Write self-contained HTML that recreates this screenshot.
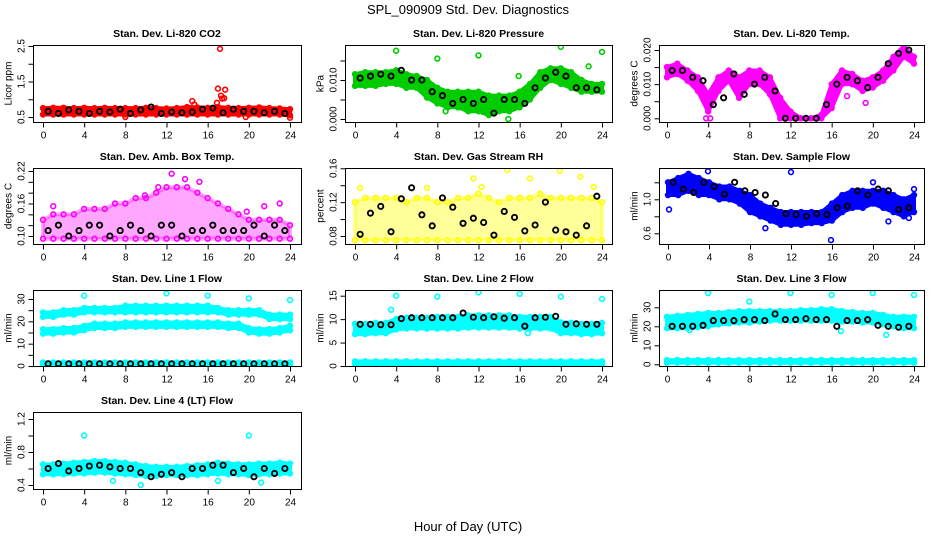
<!DOCTYPE html>
<html><head><meta charset="utf-8">
<style>
html,body{margin:0;padding:0;background:#fff;}
svg{display:block;font-family:"Liberation Sans",Arial,sans-serif;}
</style></head>
<body>
<svg id="chart" width="936" height="540" viewBox="0 0 936 540" xmlns="http://www.w3.org/2000/svg">
<text x="468" y="14" text-anchor="middle" font-size="13">SPL_090909  Std. Dev. Diagnostics</text>
<text x="468" y="531" text-anchor="middle" font-size="13">Hour of Day (UTC)</text>
</svg>
<script>
// ---------- data (hourly band low/high, outliers, half-hour black samples) ----------
const hours = [0,1,2,3,4,5,6,7,8,9,10,11,12,13,14,15,16,17,18,19,20,21,22,23,24];
const blackHours = [0.5,1.5,2.5,3.5,4.5,5.5,6.5,7.5,8.5,9.5,10.5,11.5,12.5,13.5,14.5,15.5,16.5,17.5,18.5,19.5,20.5,21.5,22.5,23.5];

const co2Lo = [0.57,0.57,0.57,0.57,0.57,0.57,0.57,0.57,0.57,0.57,0.57,0.57,0.57,0.57,0.57,0.57,0.57,0.57,0.57,0.57,0.57,0.57,0.57,0.57,0.55];
const co2Hi = [0.75,0.76,0.76,0.75,0.76,0.75,0.76,0.75,0.75,0.75,0.76,0.75,0.74,0.75,0.78,0.77,0.76,0.78,0.76,0.75,0.76,0.77,0.75,0.74,0.72];
const co2Out = [[17.2,2.42],[17,1.3],[17.7,1.27],[17.3,1.1],[17.4,1.02],[17.6,1.03],[16.9,0.9],[14.5,0.95],[14.7,0.85],[24,0.48],[19.7,0.5],[8,0.5]];
const co2Black = [0.66,0.6,0.7,0.66,0.6,0.66,0.64,0.72,0.6,0.7,0.78,0.6,0.64,0.62,0.64,0.72,0.75,0.62,0.72,0.66,0.66,0.62,0.66,0.6];

const presLo = [0.0085,0.0085,0.0085,0.009,0.009,0.008,0.008,0.0055,0.004,0.003,0.003,0.002,0.002,0.001,0.002,0.002,0.003,0.005,0.008,0.010,0.009,0.008,0.007,0.007,0.007];
const presHi = [0.0115,0.012,0.012,0.012,0.0125,0.0115,0.011,0.010,0.008,0.007,0.007,0.007,0.007,0.006,0.006,0.006,0.007,0.009,0.012,0.013,0.013,0.012,0.010,0.009,0.009];
const presOut = [[4,0.0175],[8,0.0155],[12,0.0163],[20,0.0185],[24,0.0172],[22.7,0.0135],[14.9,0.0],[8.8,0.002],[15.9,0.011]];
const presBlack = [0.0105,0.011,0.0115,0.011,0.0125,0.010,0.010,0.007,0.006,0.004,0.005,0.004,0.005,0.0015,0.005,0.005,0.004,0.008,0.0105,0.012,0.011,0.008,0.008,0.0075];

const tempLo = [0.012,0.013,0.011,0.008,0.002,0.008,0.011,0.006,0.010,0.010,0.007,0.000,0.000,0.000,0.000,0.000,0.003,0.010,0.010,0.008,0.009,0.011,0.014,0.018,0.016];
const tempHi = [0.015,0.016,0.014,0.012,0.007,0.012,0.014,0.012,0.014,0.014,0.012,0.006,0.002,0.000,0.000,0.001,0.010,0.014,0.013,0.011,0.012,0.014,0.018,0.021,0.018];
const tempOut = [[3.8,0.0],[4.2,0.0],[17.5,0.0065],[19.3,0.0045]];
const tempBlack = [0.014,0.014,0.012,0.011,0.004,0.006,0.013,0.007,0.010,0.012,0.008,0.000,0.000,0.000,0.000,0.004,0.010,0.012,0.011,0.009,0.012,0.016,0.019,0.020];

const boxLo = [0.095,0.095,0.095,0.095,0.095,0.095,0.095,0.095,0.095,0.095,0.095,0.095,0.095,0.095,0.095,0.095,0.095,0.095,0.095,0.095,0.095,0.095,0.095,0.095,0.095];
const boxHi = [0.13,0.14,0.14,0.14,0.15,0.15,0.15,0.16,0.16,0.17,0.17,0.18,0.19,0.19,0.19,0.18,0.17,0.16,0.15,0.14,0.13,0.13,0.13,0.13,0.12];
const boxOut = [[12.5,0.215],[13.8,0.205],[15.2,0.2],[1,0.155],[19.8,0.145],[21.5,0.155],[23,0.16],[11.2,0.19],[9.9,0.175]];
const boxBlack = [0.11,0.12,0.10,0.11,0.12,0.12,0.10,0.11,0.12,0.11,0.10,0.12,0.12,0.10,0.11,0.11,0.12,0.11,0.11,0.11,0.12,0.10,0.12,0.11];

const rhLo = [0.075,0.075,0.075,0.075,0.075,0.075,0.075,0.075,0.075,0.075,0.075,0.075,0.075,0.075,0.075,0.075,0.075,0.075,0.075,0.075,0.075,0.075,0.075,0.075,0.075];
const rhHi = [0.12,0.125,0.125,0.125,0.125,0.12,0.125,0.125,0.12,0.12,0.125,0.125,0.13,0.125,0.12,0.125,0.125,0.125,0.13,0.125,0.125,0.125,0.125,0.125,0.12];
const rhOut = [[0.5,0.137],[7,0.137],[11.5,0.148],[12.3,0.138],[14.8,0.158],[17,0.148],[19.9,0.157],[21.9,0.15],[23.2,0.138]];
const rhBlack = [0.082,0.107,0.115,0.085,0.124,0.137,0.105,0.092,0.125,0.114,0.095,0.101,0.096,0.081,0.109,0.102,0.086,0.093,0.12,0.087,0.085,0.081,0.092,0.127];

const flowLo = [1.05,1.05,1.1,1.05,1.05,1.0,1.0,0.95,0.85,0.8,0.75,0.7,0.7,0.7,0.72,0.72,0.75,0.85,0.9,0.9,0.95,0.9,0.85,0.8,0.85];
const flowHi = [1.2,1.25,1.3,1.25,1.2,1.15,1.15,1.1,1.05,0.95,0.9,0.85,0.85,0.85,0.85,0.85,0.95,1.05,1.1,1.1,1.1,1.1,1.05,1.0,1.05];
const flowOut = [[12,1.32],[15.9,0.52],[3.9,1.33],[0.1,0.88],[9.5,0.66],[21.5,0.74],[23.5,0.78],[24,1.12],[20,1.2]];
const flowBlack = [1.2,1.12,1.08,1.2,1.15,1.06,1.2,1.1,1.08,1.05,0.95,0.83,0.82,0.8,0.83,0.82,0.9,0.92,1.1,1.05,1.12,1.1,0.88,0.9];

const l1aLo = [22,22,23,23,24,24,24,24,24,24,24,24,24,24,24,24,24,24,23,23,23,23,21,21,21];
const l1aHi = [24,24,25,25,26,26,26,26,27,27,27,27,27,27,27,27,27,26,25,25,25,25,23,23,23];
const l1bLo = [14.5,14.5,15,15,16,17,17,17,17.5,17.5,17.5,17.5,17.5,17.5,17.5,17.5,17.5,17.5,17,17,15,14.5,14.5,15,16];
const l1bHi = [16.5,16.5,17,17,18,19,19,19,19.5,19.5,19.5,19.5,19.5,19.5,19.5,19.5,19.5,19.5,19,19,17,16.5,16.5,17,18];
const l1cLo = [0.5,0.5,0.5,0.5,0.5,0.5,0.5,0.5,0.5,0.5,0.5,0.5,0.5,0.5,0.5,0.5,0.5,0.5,0.5,0.5,0.5,0.5,0.5,0.5,0.5];
const l1cHi = [1.6,1.6,1.6,1.6,1.6,1.6,1.6,1.6,1.6,1.6,1.6,1.6,1.6,1.6,1.6,1.6,1.6,1.6,1.6,1.6,1.6,1.6,1.6,1.6,1.6];
const l1Out = [[4,31.5],[12,32.5],[16,31.5],[20,30.3],[24,29.5]];
const l1Black = [1,1,1,1,1,1,1,1,1,1,1,1,1,1,1,1,1,1,1,1,1,1,1,1];

const l2aLo = [6.8,6.8,7,7,7.8,8,8,8,8,8,8,8.2,8.2,8.2,8.2,8.2,8,8,8,8,7,7,6.8,6.8,7];
const l2aHi = [9,9,9.2,9.2,10,10.3,10.3,10.3,10.5,10.5,10.5,10.8,10.8,10.8,10.8,10.8,10.5,10.5,10.5,10.5,9.3,9.2,9,9,9.2];
const l2bLo = [0.3,0.3,0.3,0.3,0.3,0.3,0.3,0.3,0.3,0.3,0.3,0.3,0.3,0.3,0.3,0.3,0.3,0.3,0.3,0.3,0.3,0.3,0.3,0.3,0.3];
const l2bHi = [1,1,1,1,1,1,1,1,1,1,1,1,1,1,1,1,1,1,1,1,1,1,1,1,1];
const l2Out = [[4,15],[8,14.8],[12,15.7],[16,15.4],[20,14.8],[24,14.3],[3.5,12],[16.8,7]];
const l2Black = [8.9,8.9,8.8,8.8,10.1,10.3,10.3,10.3,10.3,10.3,11.3,10.4,10.3,10.5,10.2,10.3,8.5,10.3,10.4,10.6,8.9,9.0,8.9,8.9];

const l3aLo = [19,19,19,19.5,20,21,21.5,22,22,22.5,23,23,23,23,23,23,23,22.5,22.5,22,22,21,20,19,19];
const l3aHi = [25,25.5,26,26.5,27,27,27.5,28,28,28,28,28,28,28.5,28.5,29,29,28,27.5,27,27,26,25,25,25];
const l3bLo = [0.8,0.8,0.8,0.8,0.8,0.8,0.8,0.8,0.8,0.8,0.8,0.8,0.8,0.8,0.8,0.8,0.8,0.8,0.8,0.8,0.8,0.8,0.8,0.8,0.8];
const l3bHi = [2.2,2.2,2.2,2.2,2.2,2.2,2.2,2.2,2.2,2.2,2.2,2.2,2.2,2.2,2.2,2.2,2.2,2.2,2.2,2.2,2.2,2.2,2.2,2.2,2.2];
const l3Out = [[4,37.5],[12,37.5],[16,36.5],[20,37.5],[24,36.5],[8,33],[21.3,15.5],[2.2,18],[16.9,17.5]];
const l3Black = [20,20,20,20.5,23,23,23,23.5,23.5,23,26.5,23.5,23.5,24,23.5,23.5,20,23,23,23.5,20.5,20,19.5,20];

const l4Lo = [0.53,0.53,0.53,0.54,0.54,0.55,0.55,0.54,0.53,0.52,0.51,0.51,0.52,0.52,0.52,0.52,0.53,0.54,0.53,0.53,0.52,0.53,0.53,0.54,0.54];
const l4Hi = [0.65,0.65,0.66,0.67,0.68,0.69,0.69,0.68,0.67,0.65,0.63,0.62,0.62,0.62,0.63,0.64,0.65,0.67,0.66,0.65,0.65,0.66,0.66,0.67,0.66];
const l4Out = [[4,1.0],[12,1.32],[20,1.0],[9.5,0.4],[6.8,0.45],[21.2,0.43],[17,0.45]];
const l4Black = [0.6,0.66,0.57,0.6,0.63,0.64,0.62,0.6,0.6,0.55,0.5,0.53,0.55,0.5,0.6,0.6,0.64,0.64,0.55,0.6,0.5,0.6,0.54,0.6];

// ---------- panel layout ----------
const panels = [
 {id:'co2', title:'Stan. Dev. Li-820 CO2', ylab:'Licor ppm', bx:[33,301], by:[45,122], x0:43, x24:290, ya:[0.5,117], yb:[2.5,46], ticks:[0.5,1,1.5,2,2.5], labels:['0.5','1.5','2.5'], color:'#ff0000', op:1, bands:[[co2Lo,co2Hi]], out:co2Out, black:co2Black},
 {id:'pressure', title:'Stan. Dev. Li-820 Pressure', ylab:'kPa', bx:[345,612], by:[45,122], x0:355, x24:602, ya:[0,119], yb:[0.010,80], ticks:[0,0.005,0.010,0.015], labels:['0.000','0.010'], color:'#00cc00', op:1, bands:[[presLo,presHi]], out:presOut, black:presBlack},
 {id:'temp', title:'Stan. Dev. Li-820 Temp.', ylab:'degrees C', bx:[659,924], by:[45,122], x0:667, x24:914, ya:[0,118.3], yb:[0.020,50], ticks:[0,0.005,0.010,0.015,0.020], labels:['0.000','0.010','0.020'], color:'#ff00ff', op:1, bands:[[tempLo,tempHi]], out:tempOut, black:tempBlack},
 {id:'amb-box', title:'Stan. Dev. Amb. Box Temp.', ylab:'degrees C', bx:[33,301], by:[168,244], x0:43, x24:290, ya:[0.10,236], yb:[0.22,171], ticks:[0.10,0.12,0.14,0.16,0.18,0.20,0.22], labels:['0.10','0.16','0.22'], color:'#ff00ff', op:0.35, bands:[[boxLo,boxHi]], out:boxOut, black:boxBlack},
 {id:'rh', title:'Stan. Dev. Gas Stream RH', ylab:'percent', bx:[345,612], by:[168,244], x0:355, x24:602, ya:[0.08,236], yb:[0.16,168.3], ticks:[0.08,0.10,0.12,0.14,0.16], labels:['0.08','0.12','0.16'], color:'#ffff00', op:0.4, bands:[[rhLo,rhHi]], out:rhOut, black:rhBlack},
 {id:'sample-flow', title:'Stan. Dev. Sample Flow', ylab:'ml/min', bx:[659,924], by:[168,244], x0:668, x24:914, ya:[0.6,233.3], yb:[1.0,199.3], ticks:[0.6,0.8,1.0,1.2], labels:['0.6','1.0'], color:'#0000ff', op:1, bands:[[flowLo,flowHi]], out:flowOut, black:flowBlack},
 {id:'line1', title:'Stan. Dev. Line 1 Flow', ylab:'ml/min', bx:[33,301], by:[290,366], x0:43, x24:290, ya:[0,366], yb:[30,299], ticks:[0,5,10,15,20,25,30], labels:['0','10','20','30'], color:'#00ffff', op:1, bands:[[l1aLo,l1aHi],[l1bLo,l1bHi],[l1cLo,l1cHi]], out:l1Out, black:l1Black},
 {id:'line2', title:'Stan. Dev. Line 2 Flow', ylab:'ml/min', bx:[345,612], by:[290,366], x0:355, x24:602, ya:[0,366], yb:[15,295.7], ticks:[0,5,10,15], labels:['0','5','10','15'], color:'#00ffff', op:1, bands:[[l2aLo,l2aHi],[l2bLo,l2bHi]], out:l2Out, black:l2Black},
 {id:'line3', title:'Stan. Dev. Line 3 Flow', ylab:'ml/min', bx:[659,924], by:[290,366], x0:667, x24:914, ya:[0,364.3], yb:[30,307.3], ticks:[0,10,20,30], labels:['0','10','20','30'], color:'#00ffff', op:1, bands:[[l3aLo,l3aHi],[l3bLo,l3bHi]], out:l3Out, black:l3Black},
 {id:'line4', title:'Stan. Dev. Line 4 (LT) Flow', ylab:'ml/min', bx:[33,301], by:[412,489], x0:43, x24:290, ya:[0.4,485], yb:[1.2,419], ticks:[0.4,0.6,0.8,1.0,1.2], labels:['0.4','0.8','1.2'], color:'#00ffff', op:1, bands:[[l4Lo,l4Hi]], out:l4Out, black:l4Black}
];
const xTicks = [0,4,8,12,16,20,24];

const NS='http://www.w3.org/2000/svg';
const svg=document.getElementById('chart');
function mk(tag,attrs,parent){const e=document.createElementNS(NS,tag);for(const k in attrs)e.setAttribute(k,attrs[k]);(parent||svg).appendChild(e);return e;}

panels.forEach(p=>{
  const g=mk('g',{});
  
  
  const xs=h=>p.x0+(p.x24-p.x0)*h/24;
  const ys=v=>p.ya[1]+(p.yb[1]-p.ya[1])*(v-p.ya[0])/(p.yb[0]-p.ya[0]);
  const clip='clip-'+p.id;
  const cp=mk('clipPath',{id:clip},g);
  mk('rect',{x:p.bx[0],y:p.by[0],width:p.bx[1]-p.bx[0],height:p.by[1]-p.by[0]},cp);
  const data=mk('g',{'clip-path':'url(#'+clip+')'},g);
  p.bands.forEach((b,bi)=>{
    const lo=b[0],hi=b[1];
    let pts=hours.map((h,i)=>xs(h)+','+ys(hi[i]));
    pts=pts.concat(hours.map((h,i)=>xs(h)+','+ys(lo[i])).reverse());
    const poly=mk('polygon',{points:pts.join(' '),fill:p.color,'fill-opacity':p.op,stroke:p.color,'stroke-width':4,'stroke-opacity':p.op,'stroke-linejoin':'round'},data);
    
    
    hours.forEach((h,i)=>{
      [lo[i],hi[i]].forEach(v=>{
        const c=mk('circle',{cx:xs(h),cy:ys(v),r:2.4,fill:'none',stroke:p.color,'stroke-width':1.6},data);
        
        
      });
    });
  });
  p.out.forEach(o=>{
    const c=mk('circle',{cx:xs(o[0]),cy:ys(o[1]),r:2.4,fill:'none',stroke:p.color,'stroke-width':1.6},data);
    
    
  });
  p.black.forEach((v,i)=>{
    const c=mk('circle',{cx:xs(blackHours[i]),cy:ys(v),r:2.6,fill:'none',stroke:'#000','stroke-width':1.9},data);
    
    
  });
  const box=mk('rect',{x:p.bx[0]+.5,y:p.by[0]+.5,width:p.bx[1]-p.bx[0],height:p.by[1]-p.by[0],fill:'none',stroke:'#000','stroke-width':1},g);
  
  
  const xa=mk('g',{},g);
  
  
  const bot=p.by[1]+0.5;
  mk('line',{x1:xs(0),x2:xs(24),y1:bot,y2:bot,stroke:'#000'},xa);
  xTicks.forEach(t=>{
    mk('line',{x1:xs(t)+.5,x2:xs(t)+.5,y1:bot,y2:bot+5,stroke:'#000'},xa);
    const tx=mk('text',{x:xs(t)+.5,y:bot+16,'text-anchor':'middle','font-size':10},xa);
    tx.textContent=t;
    
    
  });
  const ya=mk('g',{},g);
  
  
  const lft=p.bx[0]+0.5;
  mk('line',{x1:lft,x2:lft,y1:ys(p.ticks[0]),y2:ys(p.ticks[p.ticks.length-1]),stroke:'#000'},ya);
  p.ticks.forEach(t=>mk('line',{x1:lft-5,x2:lft,y1:ys(t)+.5,y2:ys(t)+.5,stroke:'#000'},ya));
  p.labels.forEach(l=>{
    const y=ys(parseFloat(l));
    const tx=mk('text',{x:lft-9,y:y,'text-anchor':'middle','font-size':10,transform:'rotate(-90 '+(lft-9)+' '+y+')'},ya);
    tx.textContent=l;
    
    
  });
  const my=(p.by[0]+p.by[1])/2;
  const yt=mk('text',{x:lft-22,y:my,'text-anchor':'middle','font-size':10,transform:'rotate(-90 '+(lft-22)+' '+my+')'},g);
  yt.textContent=p.ylab;
  
  
  const tt=mk('text',{x:(p.bx[0]+p.bx[1])/2,y:p.by[0]-8,'text-anchor':'middle','font-size':10.5,'font-weight':'bold'},g);
  tt.textContent=p.title;
  
  
});
</script>
</body></html>
